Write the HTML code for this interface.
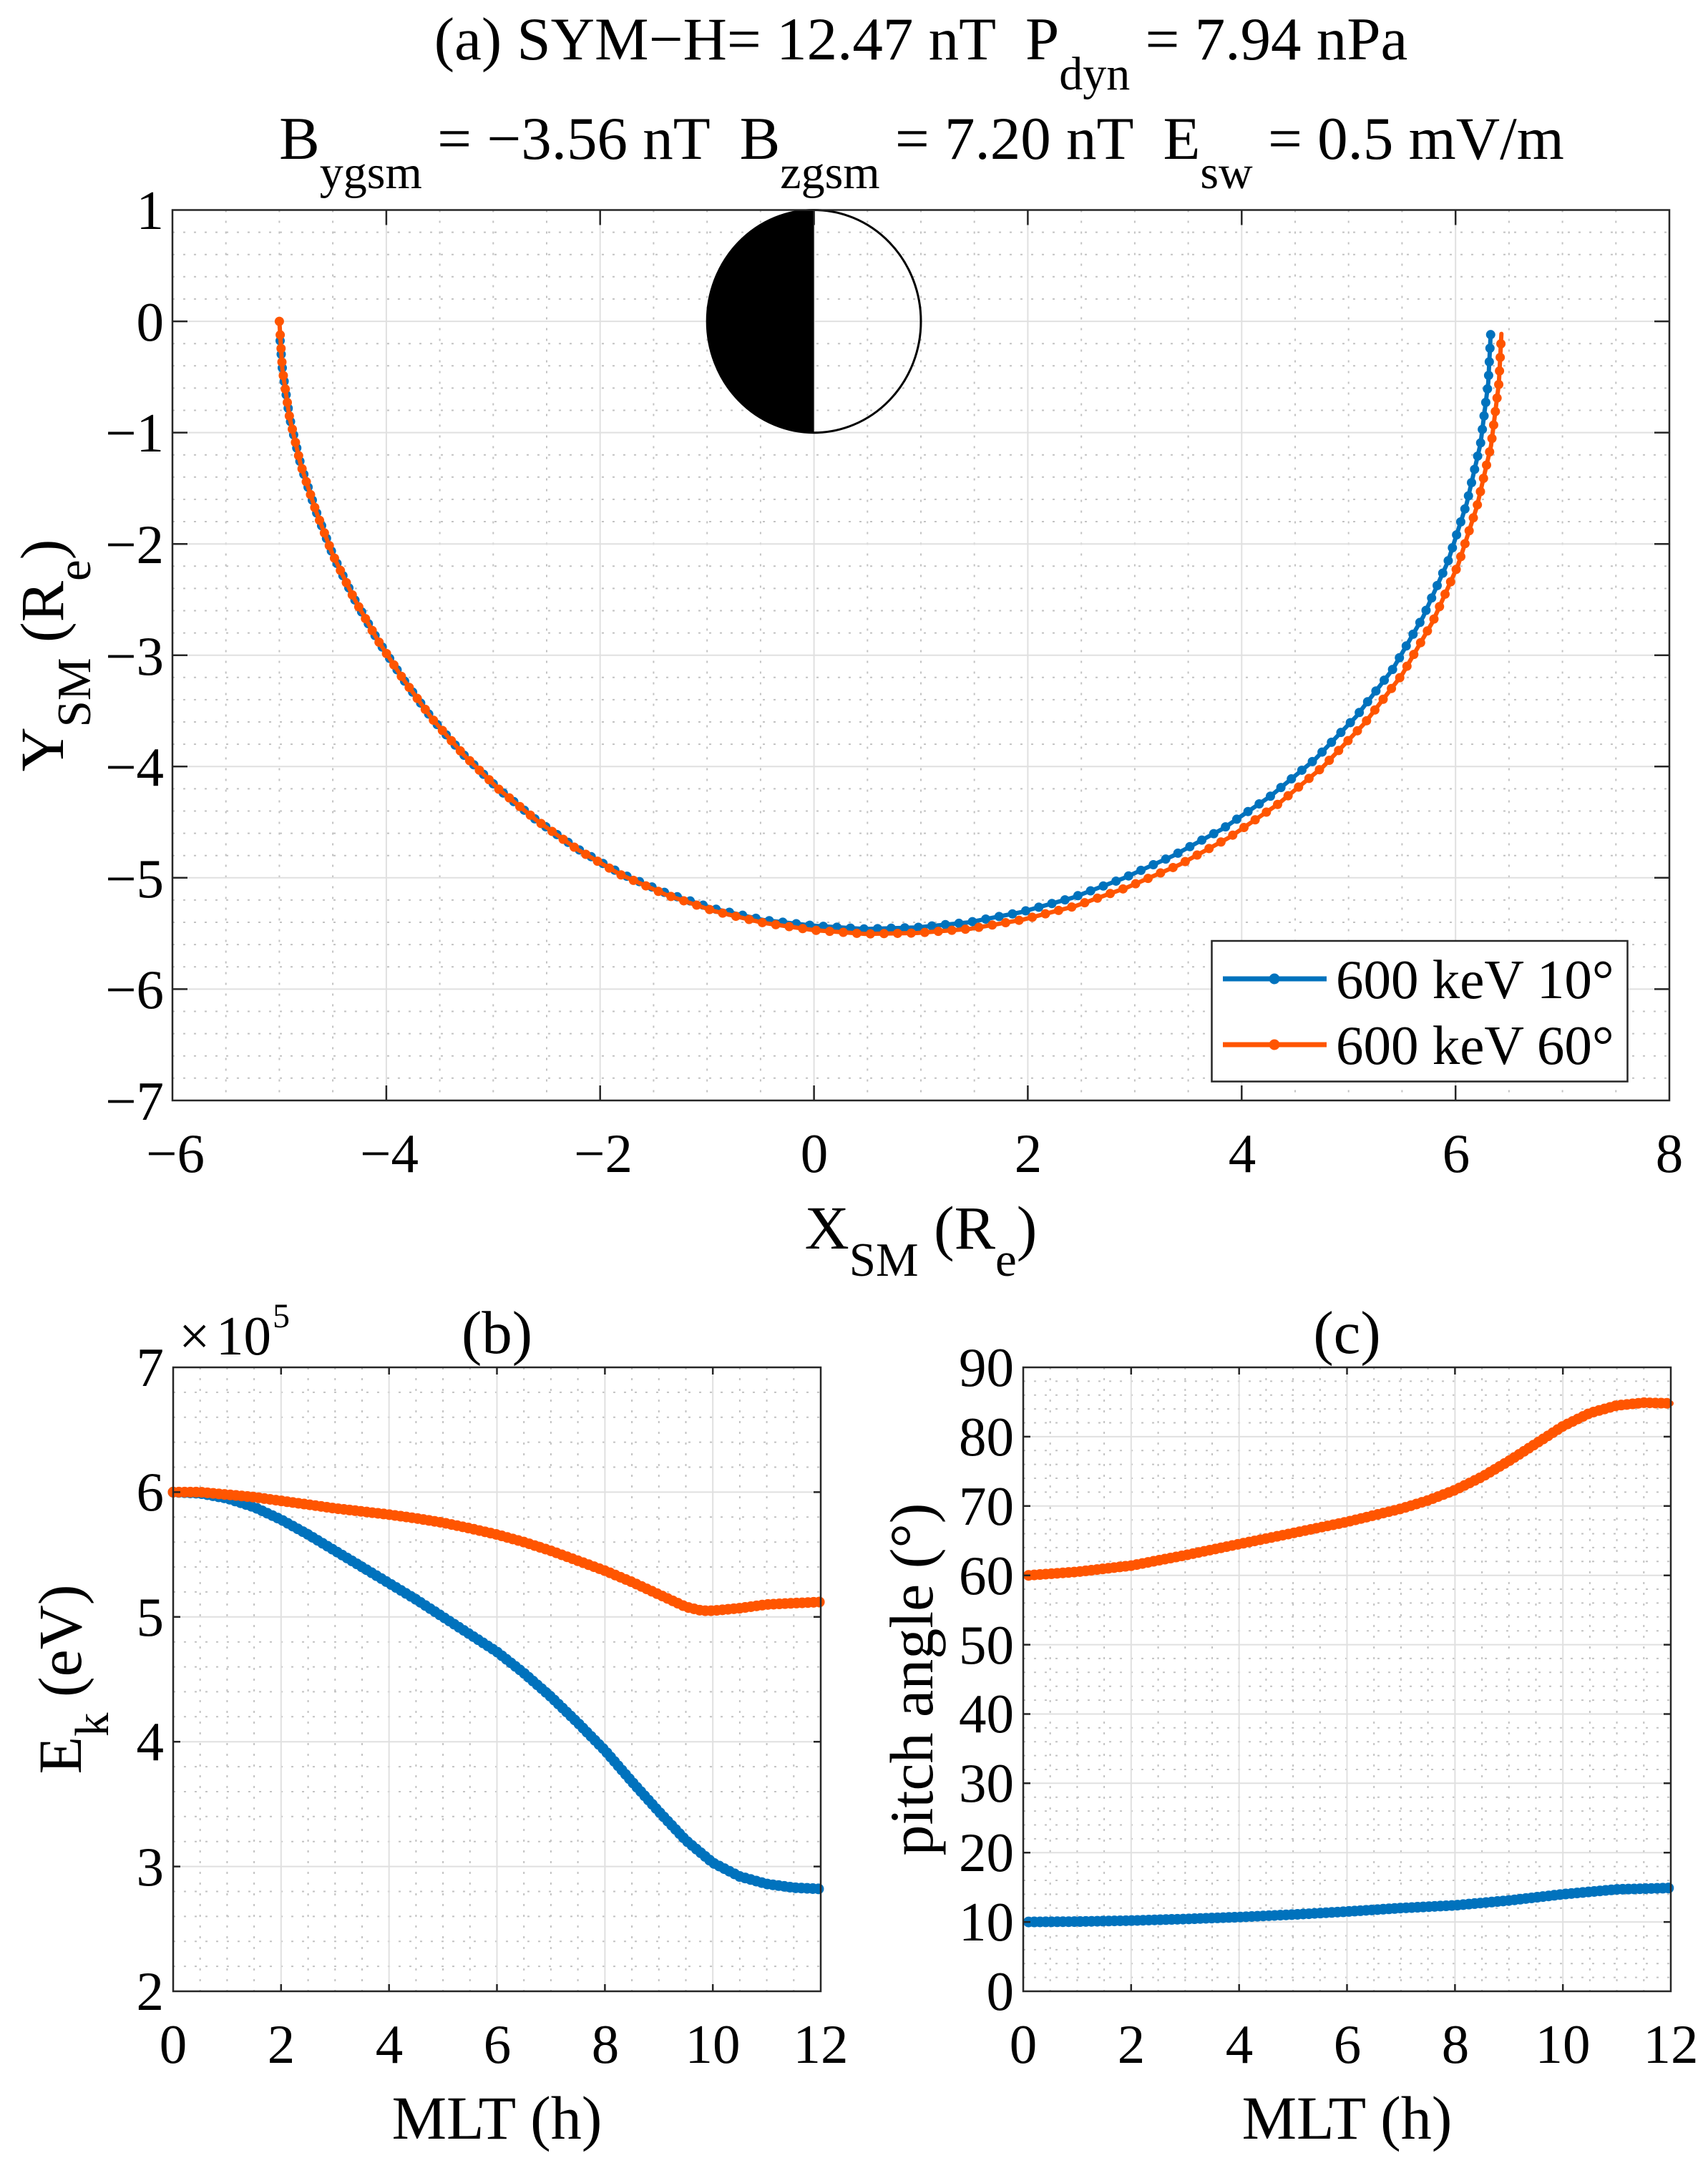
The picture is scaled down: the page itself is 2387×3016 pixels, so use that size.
<!DOCTYPE html>
<html><head><meta charset="utf-8"><style>
html,body{margin:0;padding:0;background:#fff;}
svg{display:block;}
text{font-family:"Liberation Serif","Times New Roman",serif;fill:#000;white-space:pre;}
</style></head><body>
<svg width="2387" height="3016" viewBox="0 0 2387 3016" xmlns="http://www.w3.org/2000/svg">
<rect width="2387" height="3016" fill="#fff"/>

<!-- ================= PANEL (a) ================= -->
<g fill="none" stroke-width="2">
<path stroke="#c2c2c2" stroke-dasharray="3 12" d="M315.7 293.5V1538M390.4 293.5V1538M465.1 293.5V1538M614.6 293.5V1538M689.3 293.5V1538M764 293.5V1538M913.4 293.5V1538M988.2 293.5V1538M1062.9 293.5V1538M1212.3 293.5V1538M1287 293.5V1538M1361.7 293.5V1538M1511.2 293.5V1538M1585.9 293.5V1538M1660.6 293.5V1538M1810 293.5V1538M1884.7 293.5V1538M1959.4 293.5V1538M2108.9 293.5V1538M2183.6 293.5V1538M2258.3 293.5V1538"/>
<path stroke="#c2c2c2" stroke-dasharray="3 12" d="M241 324.6H2333M241 355.7H2333M241 386.8H2333M241 417.9H2333M241 480.2H2333M241 511.3H2333M241 542.4H2333M241 573.5H2333M241 635.7H2333M241 666.8H2333M241 697.9H2333M241 729H2333M241 791.3H2333M241 822.4H2333M241 853.5H2333M241 884.6H2333M241 946.8H2333M241 977.9H2333M241 1009H2333M241 1040.1H2333M241 1102.4H2333M241 1133.5H2333M241 1164.6H2333M241 1195.7H2333M241 1257.9H2333M241 1289H2333M241 1320.1H2333M241 1351.2H2333M241 1413.5H2333M241 1444.6H2333M241 1475.7H2333M241 1506.8H2333"/>
<path stroke="#e0e0e0" d="M539.9 293.5V1538M838.7 293.5V1538M1137.6 293.5V1538M1436.4 293.5V1538M1735.3 293.5V1538M2034.2 293.5V1538M241 449.1H2333M241 604.6H2333M241 760.2H2333M241 915.7H2333M241 1071.3H2333M241 1226.8H2333M241 1382.4H2333"/>
</g>

<!-- Earth -->
<path d="M1137.6 293.5 A149.4 155.6 0 0 0 1137.6 604.7 Z" fill="#000"/>
<ellipse cx="1137.6" cy="449.1" rx="149.4" ry="155.6" fill="none" stroke="#000" stroke-width="3"/>

<!-- curves (a) -->
<g fill="none" stroke-linejoin="round" stroke-linecap="round">
<polyline stroke="#0072BD" stroke-width="6" points="391.5,476.2 394.7,516.8 404.7,583.6 420.2,649.2 441.1,713 465.2,775.5 494.4,835.7 527.4,893.9 564.1,950.1 604,1004.6 648.7,1055.6 697.5,1103.4 750.6,1147 807.3,1186.5 867.7,1221 931.8,1248.5 998.5,1270.2 1067.3,1285.9 1137.6,1293.8 1209,1298.4 1281.1,1296.2 1353.8,1289.1 1426.4,1275 1498.5,1254.8 1569.5,1227.7 1639.9,1195.8 1709.1,1158.1 1775.3,1112.9 1838.1,1061 1895.3,1001.4 1946.4,935.3 1988.8,862.3 2023.6,784.8 2049.8,703.5 2069.1,620.1 2079.9,534.9 2083.4,464.6"/>
<polyline stroke="#0072BD" stroke-width="13" stroke-dasharray="0 19" points="391.5,476.2 394.7,516.8 404.7,583.6 420.2,649.2 441.1,713 465.2,775.5 494.4,835.7 527.4,893.9 564.1,950.1 604,1004.6 648.7,1055.6 697.5,1103.4 750.6,1147 807.3,1186.5 867.7,1221 931.8,1248.5 998.5,1270.2 1067.3,1285.9 1137.6,1293.8 1209,1298.4 1281.1,1296.2 1353.8,1289.1 1426.4,1275 1498.5,1254.8 1569.5,1227.7 1639.9,1195.8 1709.1,1158.1 1775.3,1112.9 1838.1,1061 1895.3,1001.4 1946.4,935.3 1988.8,862.3 2023.6,784.8 2049.8,703.5 2069.1,620.1 2079.9,534.9 2083.4,464.6"/>
<polyline stroke="#FF5500" stroke-width="6" points="390.4,449.1 394.7,516.8 404.7,583.6 420.2,649.2 441.1,713 465.2,775.5 494.4,835.7 527.4,893.9 564.1,950.1 604,1004.6 648.7,1055.6 697.5,1103.4 750.6,1147 807,1187.2 867.2,1222.4 931.3,1250.7 998,1273.3 1066.9,1289.8 1137.6,1300 1209.6,1305.3 1282.4,1303.9 1356.1,1298.1 1429.9,1285.2 1503.6,1266.1 1576.2,1239.9 1648.4,1208.5 1718.7,1170 1785.9,1124 1849.6,1071.1 1907.5,1010.3 1959.4,943 2002.3,868.9 2037.6,790.1 2064.2,707.6 2083.8,622.8 2094.7,536.3 2098.3,466.6"/>
<polyline stroke="#FF5500" stroke-width="13" stroke-dasharray="0 19" points="390.4,449.1 394.7,516.8 404.7,583.6 420.2,649.2 441.1,713 465.2,775.5 494.4,835.7 527.4,893.9 564.1,950.1 604,1004.6 648.7,1055.6 697.5,1103.4 750.6,1147 807,1187.2 867.2,1222.4 931.3,1250.7 998,1273.3 1066.9,1289.8 1137.6,1300 1209.6,1305.3 1282.4,1303.9 1356.1,1298.1 1429.9,1285.2 1503.6,1266.1 1576.2,1239.9 1648.4,1208.5 1718.7,1170 1785.9,1124 1849.6,1071.1 1907.5,1010.3 1959.4,943 2002.3,868.9 2037.6,790.1 2064.2,707.6 2083.8,622.8 2094.7,536.3 2098.3,466.6"/>
</g>

<!-- axes (a) -->
<rect x="241" y="293.5" width="2092" height="1244.5" fill="none" stroke="#262626" stroke-width="2.5"/>
<path fill="none" stroke="#262626" stroke-width="2.5" d="M241 449.1h21M241 604.6h21M241 760.2h21M241 915.7h21M241 1071.3h21M241 1226.8h21M241 1382.4h21M2333 449.1h-21M2333 604.6h-21M2333 760.2h-21M2333 915.7h-21M2333 1071.3h-21M2333 1226.8h-21M2333 1382.4h-21M539.9 1538v-21M838.7 1538v-21M1137.6 1538v-21M1436.4 1538v-21M1735.3 1538v-21M2034.2 1538v-21M539.9 293.5v21M838.7 293.5v21M1137.6 293.5v21M1436.4 293.5v21M1735.3 293.5v21M2034.2 293.5v21"/>

<!-- legend -->
<rect x="1693.5" y="1315" width="581" height="196.5" fill="#fff" stroke="#262626" stroke-width="2.5"/>
<line x1="1709" y1="1368" x2="1854" y2="1368" stroke="#0072BD" stroke-width="7"/>
<circle cx="1781" cy="1368" r="7.5" fill="#0072BD"/>
<line x1="1709" y1="1460" x2="1854" y2="1460" stroke="#FF5500" stroke-width="7"/>
<circle cx="1781" cy="1460" r="7.5" fill="#FF5500"/>
<text x="1867" y="1395" font-size="77">600 keV 10°</text>
<text x="1867" y="1487" font-size="77">600 keV 60°</text>

<!-- tick labels (a) -->
<g font-size="77" text-anchor="end">
<text x="229" y="320">1</text>
<text x="229" y="476">0</text>
<text x="229" y="631">−1</text>
<text x="229" y="787">−2</text>
<text x="229" y="943">−3</text>
<text x="229" y="1098">−4</text>
<text x="229" y="1254">−5</text>
<text x="229" y="1409">−6</text>
<text x="229" y="1565">−7</text>
</g>
<g font-size="77" text-anchor="middle">
<text x="245" y="1638">−6</text>
<text x="544" y="1638">−4</text>
<text x="843" y="1638">−2</text>
<text x="1138" y="1638">0</text>
<text x="1437" y="1638">2</text>
<text x="1736" y="1638">4</text>
<text x="2035" y="1638">6</text>
<text x="2333" y="1638">8</text>
</g>

<!-- title (a) -->
<text x="1287" y="83" font-size="85" text-anchor="middle">(a) SYM−H= 12.47 nT  P<tspan font-size="66" dy="42">dyn</tspan><tspan dy="-42"> = 7.94 nPa</tspan></text>
<text x="1288" y="222" font-size="85" text-anchor="middle">B<tspan font-size="66" dy="41">ygsm</tspan><tspan dy="-41"> = −3.56 nT  B</tspan><tspan font-size="66" dy="41">zgsm</tspan><tspan dy="-41"> = 7.20 nT  E</tspan><tspan font-size="66" dy="41">sw</tspan><tspan dy="-41"> = 0.5 mV/m</tspan></text>

<!-- axis labels (a) -->
<text x="1287" y="1745" font-size="86" text-anchor="middle">X<tspan font-size="67" dy="38">SM</tspan><tspan dy="-38"> (R</tspan><tspan font-size="67" dy="38">e</tspan><tspan dy="-38">)</tspan></text>
<text transform="translate(88,916) rotate(-90)" font-size="86" text-anchor="middle">Y<tspan font-size="67" dy="38">SM</tspan><tspan dy="-38"> (R</tspan><tspan font-size="67" dy="38">e</tspan><tspan dy="-38">)</tspan></text>

<!-- ================= PANEL (b) ================= -->
<g fill="none" stroke-width="2">
<path stroke="#c2c2c2" stroke-dasharray="3 12" d="M279.7 1911V2783M317.4 1911V2783M355.1 1911V2783M430.6 1911V2783M468.3 1911V2783M506 1911V2783M581.4 1911V2783M619.1 1911V2783M656.8 1911V2783M732.2 1911V2783M769.9 1911V2783M807.6 1911V2783M883.1 1911V2783M920.8 1911V2783M958.5 1911V2783M1033.9 1911V2783M1071.6 1911V2783M1109.3 1911V2783"/>
<path stroke="#c2c2c2" stroke-dasharray="3 12" d="M242 1945.9H1147M242 1980.8H1147M242 2015.6H1147M242 2050.5H1147M242 2120.3H1147M242 2155.2H1147M242 2190H1147M242 2224.9H1147M242 2294.7H1147M242 2329.6H1147M242 2364.4H1147M242 2399.3H1147M242 2469.1H1147M242 2504H1147M242 2538.8H1147M242 2573.7H1147M242 2643.5H1147M242 2678.4H1147M242 2713.2H1147M242 2748.1H1147"/>
<path stroke="#e0e0e0" d="M392.8 1911V2783M543.7 1911V2783M694.5 1911V2783M845.4 1911V2783M996.2 1911V2783M242 2085.4H1147M242 2259.8H1147M242 2434.2H1147M242 2608.6H1147"/>
</g>
<g fill="none" stroke-linejoin="round" stroke-linecap="round">
<polyline stroke="#0072BD" stroke-width="8" points="242,2085.4 279.7,2087.1 317.4,2094.1 355.1,2106.3 392.8,2123.8 430.6,2144.7 468.3,2167.4 506,2190 543.7,2212.7 581.4,2235.4 619.1,2259.8 656.8,2284.2 694.5,2308.6 732.2,2338.3 769.9,2371.4 807.7,2408 845.4,2446.4 883.1,2490 920.8,2531.9 958.5,2572 996.2,2603.4 1033.9,2622.6 1071.6,2633 1109.3,2638.2 1147,2640"/>
<polyline stroke="#0072BD" stroke-width="15" stroke-dasharray="0 8" points="242,2085.4 279.7,2087.1 317.4,2094.1 355.1,2106.3 392.8,2123.8 430.6,2144.7 468.3,2167.4 506,2190 543.7,2212.7 581.4,2235.4 619.1,2259.8 656.8,2284.2 694.5,2308.6 732.2,2338.3 769.9,2371.4 807.7,2408 845.4,2446.4 883.1,2490 920.8,2531.9 958.5,2572 996.2,2603.4 1033.9,2622.6 1071.6,2633 1109.3,2638.2 1147,2640"/>
<polyline stroke="#FF5500" stroke-width="8" points="242,2085.4 279.7,2085.4 317.4,2088.9 355.1,2092.4 392.8,2097.6 430.6,2102.8 468.3,2108.1 506,2112.4 543.7,2116.8 581.4,2122 619.1,2128.1 656.8,2136 694.5,2144.7 732.2,2155.2 769.9,2167.4 807.7,2181.3 845.4,2195.2 883.1,2211 920.8,2228.4 958.5,2245.8 981.1,2251.1 996.2,2251.1 1033.9,2247.6 1071.6,2242.4 1109.3,2240.6 1147,2238.9"/>
<polyline stroke="#FF5500" stroke-width="15" stroke-dasharray="0 8" points="242,2085.4 279.7,2085.4 317.4,2088.9 355.1,2092.4 392.8,2097.6 430.6,2102.8 468.3,2108.1 506,2112.4 543.7,2116.8 581.4,2122 619.1,2128.1 656.8,2136 694.5,2144.7 732.2,2155.2 769.9,2167.4 807.7,2181.3 845.4,2195.2 883.1,2211 920.8,2228.4 958.5,2245.8 981.1,2251.1 996.2,2251.1 1033.9,2247.6 1071.6,2242.4 1109.3,2240.6 1147,2238.9"/>
</g>
<rect x="242" y="1911" width="905" height="872" fill="none" stroke="#262626" stroke-width="2.5"/>
<path fill="none" stroke="#262626" stroke-width="2.5" d="M242 2085.4h10M242 2259.8h10M242 2434.2h10M242 2608.6h10M1147 2085.4h-10M1147 2259.8h-10M1147 2434.2h-10M1147 2608.6h-10M392.8 2783v-10M543.7 2783v-10M694.5 2783v-10M845.4 2783v-10M996.2 2783v-10M392.8 1911v10M543.7 1911v10M694.5 1911v10M845.4 1911v10M996.2 1911v10"/>
<g font-size="77" text-anchor="end">
<text x="229" y="1937">7</text>
<text x="229" y="2111">6</text>
<text x="229" y="2286">5</text>
<text x="229" y="2460">4</text>
<text x="229" y="2635">3</text>
<text x="229" y="2809">2</text>
</g>
<g font-size="77" text-anchor="middle">
<text x="242" y="2883">0</text>
<text x="393" y="2883">2</text>
<text x="544" y="2883">4</text>
<text x="695" y="2883">6</text>
<text x="846" y="2883">8</text>
<text x="996" y="2883">10</text>
<text x="1147" y="2883">12</text>
</g>
<text x="250" y="1893" font-size="77">×</text>
<text x="302" y="1893" font-size="77">10</text>
<text x="381" y="1855" font-size="48">5</text>
<text x="694.5" y="1891" font-size="85" text-anchor="middle">(b)</text>
<text x="694.5" y="2989" font-size="86" text-anchor="middle">MLT (h)</text>
<text transform="translate(113,2347) rotate(-90)" font-size="86" text-anchor="middle">E<tspan font-size="67" dy="38">k</tspan><tspan dy="-38"> (eV)</tspan></text>

<!-- ================= PANEL (c) ================= -->
<g fill="none" stroke-width="2">
<path stroke="#c2c2c2" stroke-dasharray="3 12" d="M1467.7 1911V2783M1505.4 1911V2783M1543.1 1911V2783M1618.6 1911V2783M1656.3 1911V2783M1694 1911V2783M1769.4 1911V2783M1807.1 1911V2783M1844.8 1911V2783M1920.2 1911V2783M1957.9 1911V2783M1995.6 1911V2783M2071.1 1911V2783M2108.8 1911V2783M2146.5 1911V2783M2221.9 1911V2783M2259.6 1911V2783M2297.3 1911V2783"/>
<path stroke="#c2c2c2" stroke-dasharray="3 12" d="M1430 1930.4H2335M1430 1949.8H2335M1430 1969.1H2335M1430 1988.5H2335M1430 2027.3H2335M1430 2046.6H2335M1430 2066H2335M1430 2085.4H2335M1430 2124.2H2335M1430 2143.5H2335M1430 2162.9H2335M1430 2182.3H2335M1430 2221H2335M1430 2240.4H2335M1430 2259.8H2335M1430 2279.2H2335M1430 2317.9H2335M1430 2337.3H2335M1430 2356.7H2335M1430 2376.1H2335M1430 2414.8H2335M1430 2434.2H2335M1430 2453.6H2335M1430 2473H2335M1430 2511.7H2335M1430 2531.1H2335M1430 2550.5H2335M1430 2569.9H2335M1430 2608.6H2335M1430 2628H2335M1430 2647.4H2335M1430 2666.7H2335M1430 2705.5H2335M1430 2724.9H2335M1430 2744.3H2335M1430 2763.6H2335"/>
<path stroke="#e0e0e0" d="M1580.8 1911V2783M1731.7 1911V2783M1882.5 1911V2783M2033.4 1911V2783M2184.2 1911V2783M1430 2007.9H2335M1430 2104.8H2335M1430 2201.7H2335M1430 2298.6H2335M1430 2395.5H2335M1430 2492.3H2335M1430 2589.2H2335M1430 2686.1H2335"/>
</g>
<g fill="none" stroke-linejoin="round" stroke-linecap="round">
<polyline stroke="#0072BD" stroke-width="8" points="1437.5,2686.1 1505.4,2685.6 1580.8,2684.2 1656.3,2682 1731.7,2679.3 1807.1,2675.8 1882.5,2671.6 1957.9,2666.7 2033.4,2662.9 2108.8,2656.1 2184.2,2647.4 2259.6,2640.6 2335,2638.6"/>
<polyline stroke="#0072BD" stroke-width="15" stroke-dasharray="0 8" points="1437.5,2686.1 1505.4,2685.6 1580.8,2684.2 1656.3,2682 1731.7,2679.3 1807.1,2675.8 1882.5,2671.6 1957.9,2666.7 2033.4,2662.9 2108.8,2656.1 2184.2,2647.4 2259.6,2640.6 2335,2638.6"/>
<polyline stroke="#FF5500" stroke-width="8" points="1437.5,2201.7 1505.4,2196.8 1580.8,2188.1 1656.3,2173.6 1731.7,2158 1807.1,2142.6 1882.5,2127 1957.9,2108.6 1995.7,2097 2033.4,2082.5 2071.1,2064.1 2108.8,2041.8 2146.5,2017.6 2184.2,1993.3 2221.9,1974.9 2259.6,1964.3 2297.3,1960.4 2335,1961.4"/>
<polyline stroke="#FF5500" stroke-width="15" stroke-dasharray="0 8" points="1437.5,2201.7 1505.4,2196.8 1580.8,2188.1 1656.3,2173.6 1731.7,2158 1807.1,2142.6 1882.5,2127 1957.9,2108.6 1995.7,2097 2033.4,2082.5 2071.1,2064.1 2108.8,2041.8 2146.5,2017.6 2184.2,1993.3 2221.9,1974.9 2259.6,1964.3 2297.3,1960.4 2335,1961.4"/>
</g>
<rect x="1430" y="1911" width="905" height="872" fill="none" stroke="#262626" stroke-width="2.5"/>
<path fill="none" stroke="#262626" stroke-width="2.5" d="M1430 2007.9h10M1430 2104.8h10M1430 2201.7h10M1430 2298.6h10M1430 2395.5h10M1430 2492.3h10M1430 2589.2h10M1430 2686.1h10M2335 2007.9h-10M2335 2104.8h-10M2335 2201.7h-10M2335 2298.6h-10M2335 2395.5h-10M2335 2492.3h-10M2335 2589.2h-10M2335 2686.1h-10M1580.8 2783v-10M1731.7 2783v-10M1882.5 2783v-10M2033.4 2783v-10M2184.2 2783v-10M1580.8 1911v10M1731.7 1911v10M1882.5 1911v10M2033.4 1911v10M2184.2 1911v10"/>
<g font-size="77" text-anchor="end">
<text x="1417" y="1937">90</text>
<text x="1417" y="2034">80</text>
<text x="1417" y="2131">70</text>
<text x="1417" y="2228">60</text>
<text x="1417" y="2325">50</text>
<text x="1417" y="2421">40</text>
<text x="1417" y="2518">30</text>
<text x="1417" y="2615">20</text>
<text x="1417" y="2712">10</text>
<text x="1417" y="2809">0</text>
</g>
<g font-size="77" text-anchor="middle">
<text x="1430" y="2883">0</text>
<text x="1581" y="2883">2</text>
<text x="1732" y="2883">4</text>
<text x="1883" y="2883">6</text>
<text x="2034" y="2883">8</text>
<text x="2184" y="2883">10</text>
<text x="2335" y="2883">12</text>
</g>
<text x="1882.5" y="1891" font-size="85" text-anchor="middle">(c)</text>
<text x="1882.5" y="2989" font-size="86" text-anchor="middle">MLT (h)</text>
<text transform="translate(1303,2347) rotate(-90)" font-size="86" text-anchor="middle">pitch angle (°)</text>
</svg>
</body></html>
